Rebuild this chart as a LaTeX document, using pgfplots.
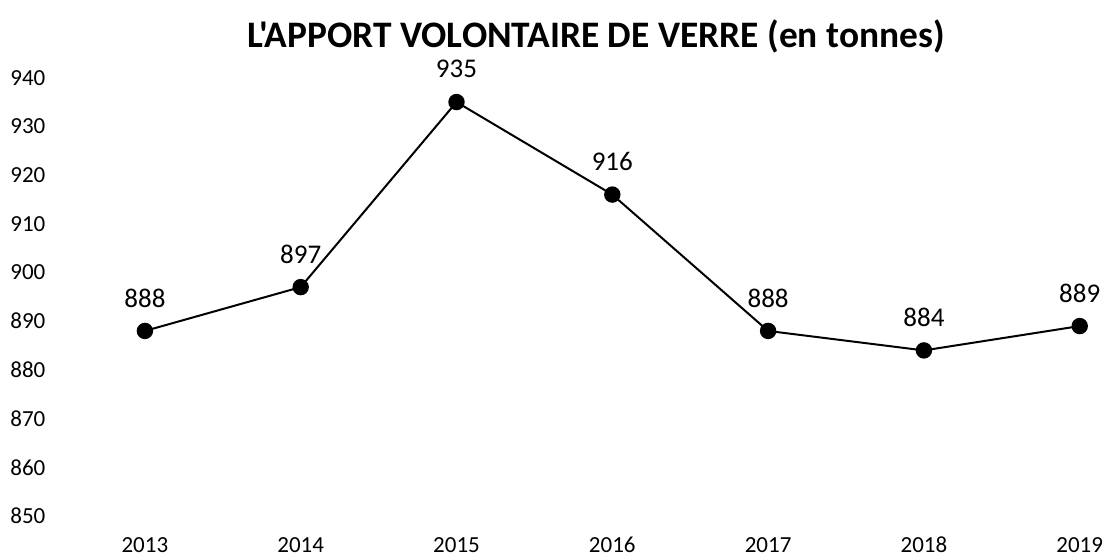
\documentclass[border=0pt]{standalone}
\usepackage{fontspec}
\setmainfont{Carlito}
\newfontfamily\titlefont{Carlito}[Ligatures=TeXOff]
\usepackage{pgfplots}
\pgfplotsset{compat=1.18}

\begin{document}
\begin{tikzpicture}
% picture frame: 1107 x 556 px at 0.5pt per px, axis corner at px (67,516)
\path[use as bounding box] (-33.5pt,-20pt) rectangle (520pt,258pt);
\begin{axis}[
    at={(0pt,0pt)}, anchor=south west,
    scale only axis,
    x=77.9pt, y=2.435pt,
    xmin=-0.5, xmax=6.2,
    ymin=850, ymax=940,
    xtick={0,...,6},
    xticklabels={2013,2014,2015,2016,2017,2018,2019},
    ytick={850,860,...,940},
    axis line style={draw=none},
    major tick length=0pt,
    clip=false,
    /pgf/number format/assume math mode=true,
    /pgf/number format/1000 sep={},
    tick label style={font=\fontsize{11.5}{13}\selectfont, text=black},
    yticklabel style={anchor=east, xshift=-7.3pt},
    xticklabel style={anchor=center, yshift=-14.5pt},
    nodes near coords,
    every node near coord/.append style={anchor=center, yshift=16.5pt,
        font=\fontsize{13.5}{15}\selectfont, text=black},
]
\addplot[black, line width=1pt, mark=*, mark size=3.6pt] coordinates {
    (0,888) (1,897) (2,935) (3,916) (4,888) (5,884) (6,889)
};
\end{axis}
\node[font=\titlefont\bfseries\fontsize{18.7}{21}\selectfont] at (264.5pt,240pt)
    {L'APPORT VOLONTAIRE DE VERRE (en tonnes)};
\end{tikzpicture}
\end{document}
